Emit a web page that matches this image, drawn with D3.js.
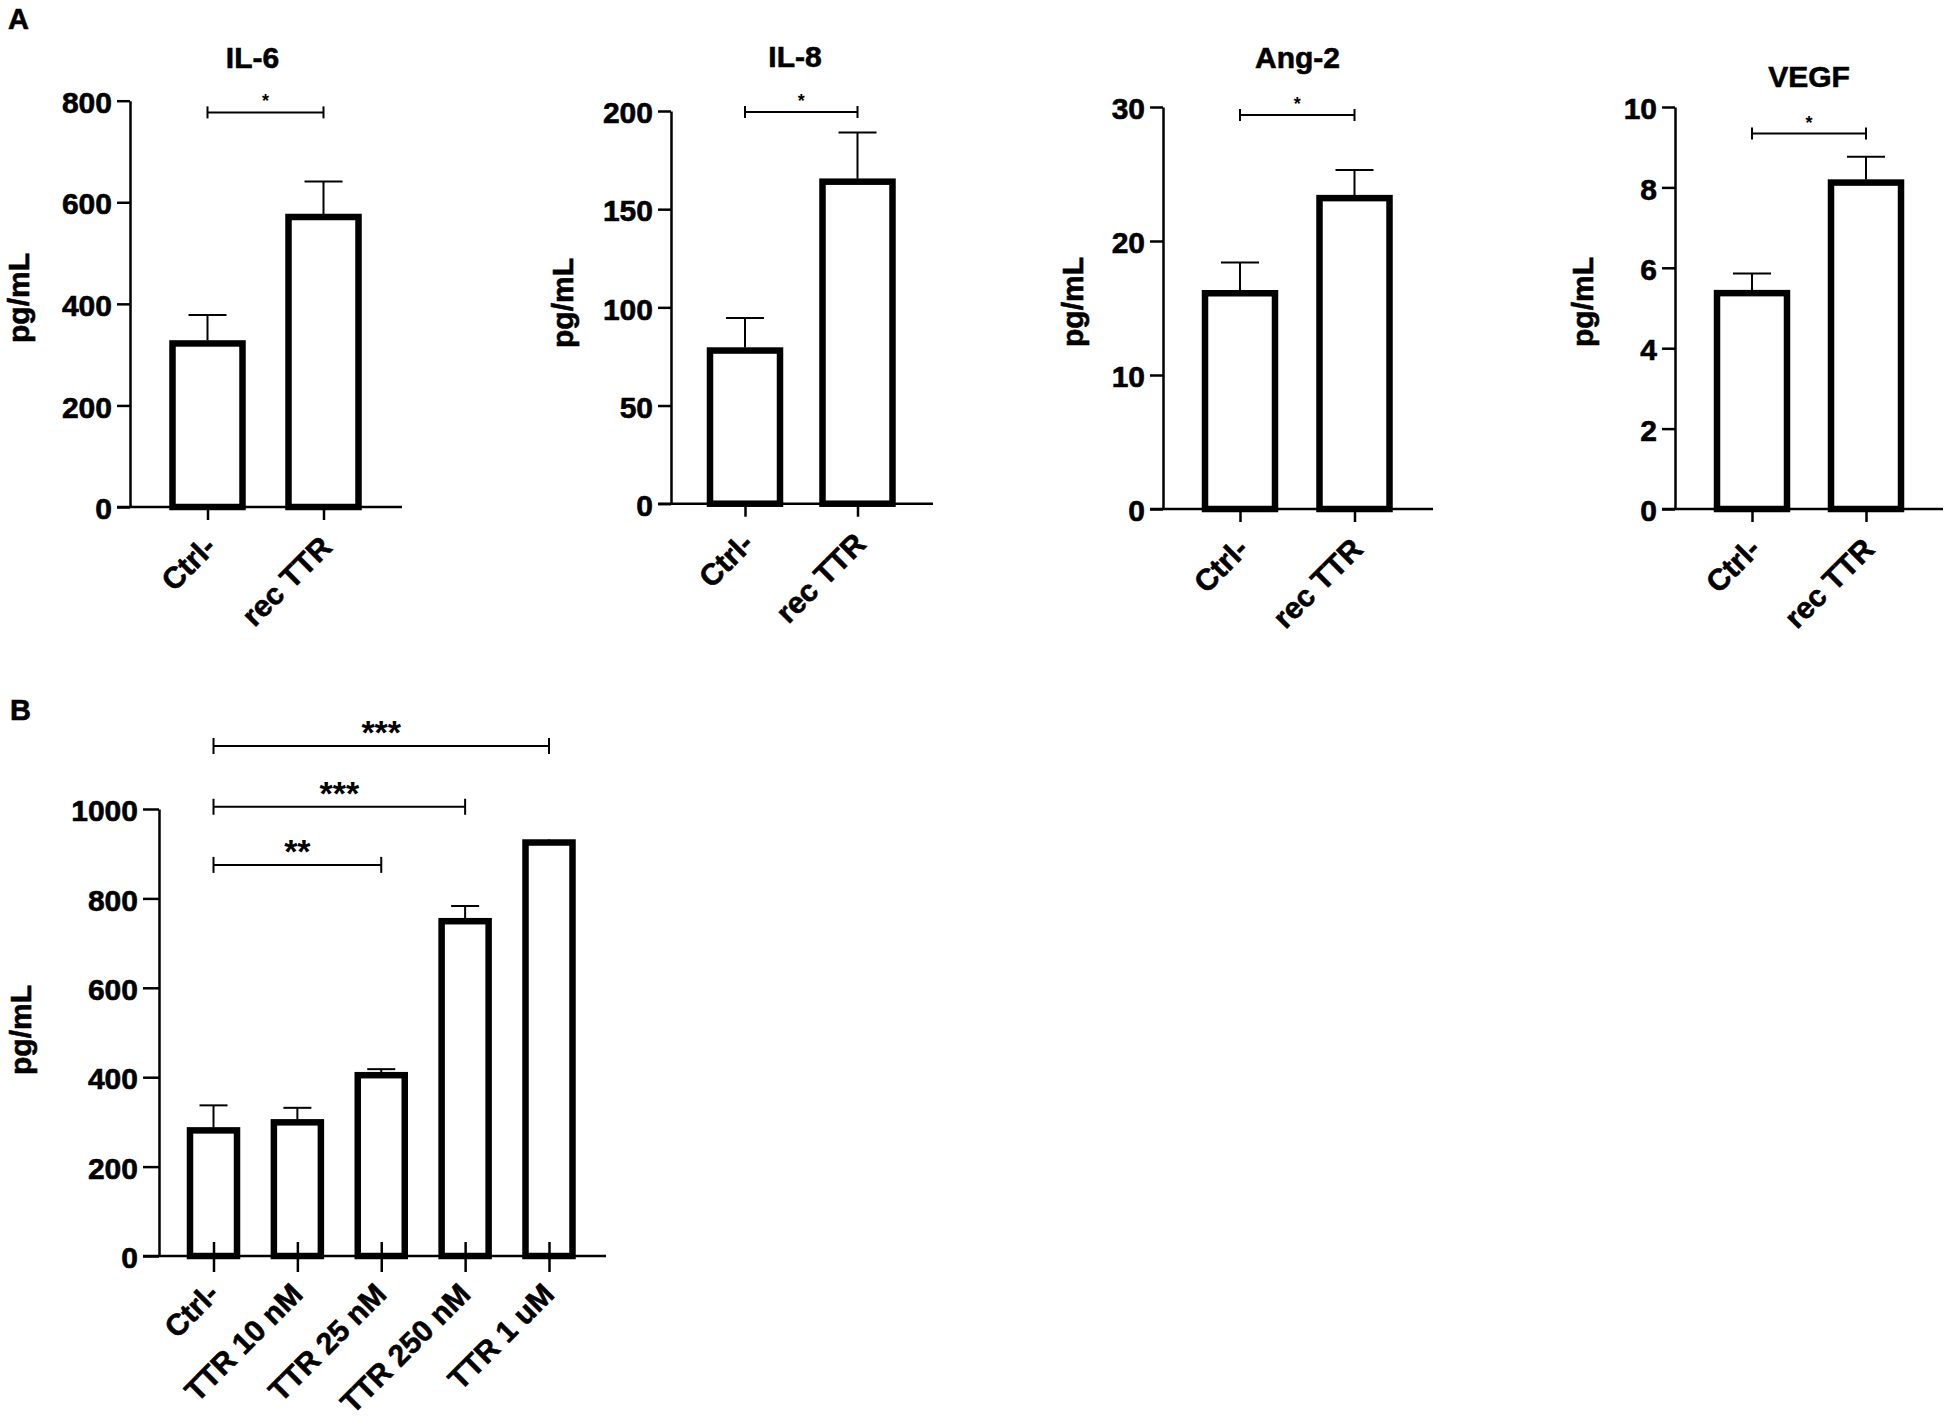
<!DOCTYPE html>
<html><head><meta charset="utf-8">
<script src="https://cdn.jsdelivr.net/npm/d3@7"></script>
<style>
body{margin:0;background:#fff}
svg{display:block}
text{font-family:"Liberation Sans",Arial,Helvetica,sans-serif;font-weight:bold;fill:#000}
text.heavy{stroke:#000;stroke-width:0.6px}
</style>
</head><body>
<svg id="chart" width="1946" height="1417"></svg>
<script>
// ---------- DATA ----------
const catsA = ["Ctrl-", "rec TTR"];
const titlesA = ["IL-6", "IL-8", "Ang-2", "VEGF"];
const il6Mean = [322, 571];   const il6Err = [56, 70];    const il6Ticks = [0, 200, 400, 600, 800];
const il8Mean = [78, 164];    const il8Err = [16.6, 25];  const il8Ticks = [0, 50, 100, 150, 200];
const ang2Mean = [16.1, 23.2]; const ang2Err = [2.3, 2.1]; const ang2Ticks = [0, 10, 20, 30];
const vegfMean = [5.37, 8.12]; const vegfErr = [0.49, 0.64]; const vegfTicks = [0, 2, 4, 6, 8, 10];
const sigYA = [777, 199.5, 29.4, 9.34];
const sigLabelA = ["*", "*", "*", "*"];

const catsB = ["Ctrl-", "TTR 10 nM", "TTR 25 nM", "TTR 250 nM", "TTR 1 uM"];
const bMean = [281, 299, 404.5, 749, 925];
const bErr = [56, 32.5, 13.5, 34, 3];
const bTicks = [0, 200, 400, 600, 800, 1000];
const sigBFrom = ["Ctrl-", "Ctrl-", "Ctrl-"];
const sigBTo = ["TTR 25 nM", "TTR 250 nM", "TTR 1 uM"];
const sigBLabel = ["**", "***", "***"];
const sigBY = [875, 1005, 1141];

const yLabelText = "pg/mL";
const panelLetters = ["A", "B"];

// ---------- LAYOUT ----------
const layoutA = [
  {axisX:130,  yTop:100.7, yZero:507,   xc:[207.5,323.5],  xEnd:402,  titleX:252.5,  titleY:68,   ylx:29,   yly:298},
  {axisX:671,  yTop:111,   yZero:503.7, xc:[745,857.5],    xEnd:933,  titleX:795,    titleY:66.5, ylx:573,  yly:303},
  {axisX:1163, yTop:107,   yZero:509,   xc:[1240,1354.5],  xEnd:1433, titleX:1297.5, titleY:68,   ylx:1083, yly:302},
  {axisX:1675, yTop:107,   yZero:509,   xc:[1752,1866],    xEnd:1943, titleX:1809,   titleY:87,   ylx:1593, yly:302}
];
const layoutB = {axisX:159, yTop:809, yZero:1256, xc:[213.5,549], xEnd:606, ylx:31, yly:1030};

const svg = d3.select("#chart");

function drawPanel(g, L, cats, means, errs, ticks, opt) {
  const y = d3.scaleLinear().domain([ticks[0], ticks[ticks.length-1]]).range([L.yZero, L.yTop]);
  const x = d3.scalePoint().domain(cats).range(L.xc);

  // y axis
  const ya = g.append("g").attr("transform", `translate(${L.axisX},0)`)
    .call(d3.axisLeft(y).tickValues(ticks).tickFormat(d3.format("d"))
      .tickSize(opt.yTick).tickSizeOuter(0).tickPadding(5));
  ya.attr("font-family", null).attr("font-size", null);
  ya.select(".domain").attr("stroke", "#000").attr("stroke-width", 2.5);
  ya.selectAll(".tick line").attr("stroke", "#000").attr("stroke-width", 2.5);
  ya.selectAll(".tick text").attr("class", "heavy").attr("font-size", 30).attr("dy", "0.39em");

  // bars
  g.selectAll("rect.bar").data(cats).join("rect").attr("class", "bar")
    .attr("x", d => x(d) - opt.bw/2)
    .attr("width", opt.bw)
    .attr("y", (d,i) => y(means[i]))
    .attr("height", (d,i) => y(0) - y(means[i]))
    .attr("fill", "#fff").attr("stroke", "#000").attr("stroke-width", 6.5);

  // error bars (upper)
  const eg = g.append("g").attr("stroke", "#000").attr("stroke-width", 2);
  cats.forEach((c,i) => {
    if (!errs[i]) return;
    const top = y(means[i] + errs[i]);
    eg.append("line").attr("x1", x(c)).attr("x2", x(c)).attr("y1", y(means[i]) - 3).attr("y2", top);
    eg.append("line").attr("x1", x(c) - opt.cap).attr("x2", x(c) + opt.cap).attr("y1", top).attr("y2", top);
  });

  // x axis baseline
  g.append("line").attr("x1", L.axisX - opt.yTick).attr("x2", L.xEnd)
    .attr("y1", y(0)).attr("y2", y(0)).attr("stroke", "#000").attr("stroke-width", 2.5);
  // x ticks
  const xa = g.append("g").attr("transform", `translate(0,${y(0)})`)
    .call(d3.axisBottom(x).tickSize(opt.xTickDown).tickSizeOuter(0).tickFormat(""));
  xa.select(".domain").remove();
  xa.selectAll(".tick line").attr("stroke", "#000").attr("stroke-width", 2.5).attr("y1", -opt.xTickUp);

  // category labels
  g.selectAll("text.cat").data(cats).join("text").attr("class", "cat heavy")
    .attr("transform", d => `translate(${x(d) + opt.labDx},${y(0) + opt.labDy}) rotate(-45)`)
    .attr("text-anchor", "end").attr("font-size", 30).text(d => d);

  // y label
  g.append("text").attr("class", "heavy").attr("transform", `translate(${L.ylx},${L.yly}) rotate(-90)`)
    .attr("text-anchor", "middle").attr("font-size", 30).text(yLabelText);

  return {x, y};
}

function bracket(g, x, y, from, to, yv, label, o) {
  const ly = y(yv), x1 = x(from), x2 = x(to);
  const bg = g.append("g").attr("stroke", "#000").attr("stroke-width", 2);
  bg.append("line").attr("x1", x1).attr("x2", x2).attr("y1", ly).attr("y2", ly);
  bg.append("line").attr("x1", x1).attr("x2", x1).attr("y1", ly - o.tick).attr("y2", ly + o.tick);
  bg.append("line").attr("x1", x2).attr("x2", x2).attr("y1", ly - o.tick).attr("y2", ly + o.tick);
  g.append("text").attr("x", (x1 + x2)/2).attr("y", ly + o.textDy)
    .attr("text-anchor", "middle").attr("font-size", o.fs).text(label);
}

// ---------- PANEL A ----------
const dataA = [
  [il6Mean, il6Err, il6Ticks],
  [il8Mean, il8Err, il8Ticks],
  [ang2Mean, ang2Err, ang2Ticks],
  [vegfMean, vegfErr, vegfTicks]
];
const optA = {yTick:13, xTickDown:13, xTickUp:0, bw:70, cap:19, labDx:10, labDy:42};
layoutA.forEach((L, k) => {
  const g = svg.append("g");
  const [m, e, t] = dataA[k];
  const {x, y} = drawPanel(g, L, catsA, m, e, t, optA);
  g.append("text").attr("class", "heavy").attr("x", L.titleX).attr("y", L.titleY).attr("text-anchor", "middle")
    .attr("font-size", 30).text(titlesA[k]);
  bracket(g, x, y, catsA[0], catsA[1], sigYA[k], sigLabelA[k], {tick:6, textDy:-5, fs:18});
});

// ---------- PANEL B ----------
const gB = svg.append("g");
const optB = {yTick:16, xTickDown:16, xTickUp:14, bw:47, cap:14, labDx:7, labDy:40};
const sB = drawPanel(gB, layoutB, catsB, bMean, bErr, bTicks, optB);
sigBTo.forEach((to, i) => {
  bracket(gB, sB.x, sB.y, sigBFrom[i], to, sigBY[i], sigBLabel[i], {tick:8, textDy:-2, fs:34});
});

// panel letters
svg.append("text").attr("class", "heavy").attr("x", 8).attr("y", 29).attr("font-size", 29).text(panelLetters[0]);
svg.append("text").attr("class", "heavy").attr("x", 10).attr("y", 720).attr("font-size", 29).text(panelLetters[1]);
</script>
</body></html>
